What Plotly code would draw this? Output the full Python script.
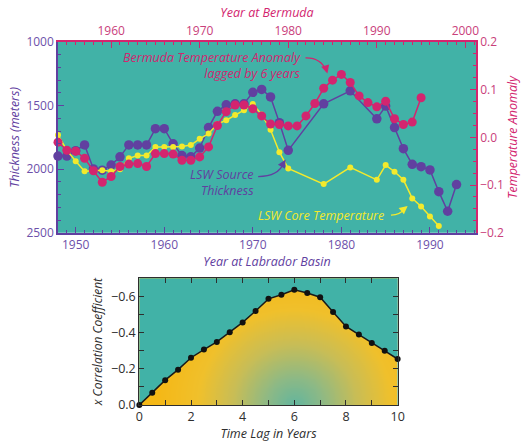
import numpy as np
import plotly.graph_objects as go

# ---------------- data ----------------
thick_years = [1948, 1949, 1950, 1951, 1952, 1953, 1954, 1955, 1956, 1957, 1958, 1959, 1960,
               1961, 1962, 1963, 1964, 1965, 1966, 1967, 1968, 1969, 1970, 1971, 1972, 1973,
               1974, 1978, 1981, 1984, 1985, 1986, 1987, 1988, 1989, 1990, 1991, 1992, 1993]
thick_vals = [1897, 1897, 1855, 1809, 1998, 2008, 1968, 1903, 1809, 1809, 1809, 1682, 1682,
              1801, 1893, 1903, 1834, 1673, 1545, 1494, 1486, 1486, 1396, 1373, 1432, 1634,
              1852, 1486, 1384, 1604, 1504, 1673, 1839, 1962, 1980, 2006, 2177, 2331, 2121]

core_years = [1948, 1949, 1950, 1951, 1952, 1953, 1954, 1955, 1956, 1957, 1958, 1959, 1960,
              1961, 1962, 1963, 1964, 1965, 1966, 1967, 1968, 1969, 1970, 1971, 1972, 1973,
              1974, 1978, 1981, 1984, 1985, 1986, 1987, 1988, 1989, 1990, 1991]
core_vals = [0.005, -0.027, -0.050, -0.071, -0.070, -0.069, -0.071, -0.067, -0.044, -0.038,
             -0.038, -0.020, -0.020, -0.020, -0.019, -0.016, -0.003, 0.008, 0.028, 0.036,
             0.047, 0.057, 0.070, 0.048, 0.016, -0.031, -0.065, -0.098, -0.063, -0.089,
             -0.058, -0.072, -0.089, -0.128, -0.145, -0.166, -0.186]

berm_years = list(range(1954, 1996))
berm_vals = [-0.010, -0.027, -0.029, -0.044, -0.070, -0.094, -0.082, -0.061, -0.056, -0.055,
             -0.061, -0.034, -0.034, -0.035, -0.048, -0.048, -0.041, -0.020, 0.025, 0.054,
             0.068, 0.068, 0.060, 0.045, 0.028, 0.027, 0.024, 0.024, 0.045, 0.071,
             0.103, 0.120, 0.132, 0.115, 0.087, 0.073, 0.064, 0.076, 0.039, 0.027,
             0.032, 0.083]
LAG_YEARS = 6

lags = [0, 0.5, 1, 1.5, 2, 2.5, 3, 3.5, 4, 4.5, 5, 5.5, 6, 6.5, 7, 7.5, 8, 8.5, 9, 9.5, 10]
corr = [0, -0.068, -0.137, -0.195, -0.261, -0.306, -0.348, -0.402, -0.456, -0.519, -0.586,
        -0.609, -0.636, -0.618, -0.595, -0.514, -0.434, -0.389, -0.342, -0.299, -0.254]

# ---------------- style ----------------
TEAL = "#41b2a7"
PURPLE = "#6140a0"
PURPLE_T = "#6d50aa"
PINK = "#d3256f"
PINK_T = "#c9407b"
YELLOW = "#f3ea2c"
DARK = "#2e2e2e"
FONT = "Open Sans"

fig = go.Figure()

# top chart traces
fig.add_trace(go.Scatter(x=thick_years, y=thick_vals, xaxis="x", yaxis="y",
                         mode="lines+markers", line=dict(color=PURPLE, width=1.5),
                         marker=dict(color=PURPLE, size=9.5), cliponaxis=False,
                         hoverinfo="skip"))
fig.add_trace(go.Scatter(x=berm_years, y=berm_vals, xaxis="x3", yaxis="y2",
                         mode="lines+markers", line=dict(color=PINK, width=1.5),
                         marker=dict(color=PINK, size=9), cliponaxis=False,
                         hoverinfo="skip"))
fig.add_trace(go.Scatter(x=core_years, y=core_vals, xaxis="x", yaxis="y2",
                         mode="lines+markers", line=dict(color=YELLOW, width=1.5),
                         marker=dict(color=YELLOW, size=6), cliponaxis=False,
                         hoverinfo="skip"))

# bottom chart: gradient background (style only), masked above the curve
gx = np.linspace(0, 10, 101)
gy = np.linspace(-0.7, 0, 71)
GX, GY = np.meshgrid(gx, gy)
rpx = np.sqrt(((GX - 6.0) * 26.2) ** 2 + (GY * 185.7) ** 2)
gz = np.clip(rpx / 140.0, 0, 1)
fig.add_trace(go.Heatmap(x=gx, y=gy, z=gz, xaxis="x2", yaxis="y3", zsmooth="best",
                         zmin=0, zmax=1, showscale=False, hoverinfo="skip",
                         colorscale=[[0, "#63b59e"], [0.2, "#8db986"], [0.45, "#c9bd56"],
                                     [0.7, "#f0c02c"], [1, "#f5b816"]]))
fig.add_trace(go.Scatter(x=lags, y=[-0.7] * len(lags), xaxis="x2", yaxis="y3",
                         mode="lines", line=dict(width=0, color=TEAL), hoverinfo="skip"))
fig.add_trace(go.Scatter(x=lags, y=corr, xaxis="x2", yaxis="y3", mode="none",
                         fill="tonexty", fillcolor=TEAL, hoverinfo="skip"))
fig.add_trace(go.Scatter(x=lags, y=corr, xaxis="x2", yaxis="y3", mode="lines+markers",
                         line=dict(color="#1a1a1a", width=1.5),
                         marker=dict(color="#111111", size=6), cliponaxis=False,
                         hoverinfo="skip"))

tickfont_p = dict(family=FONT, size=12, color=PURPLE_T)
tickfont_k = dict(family=FONT, size=12, color=PINK_T)

fig.update_layout(
    width=529, height=448, showlegend=False,
    margin=dict(l=58, r=46, t=40, b=35),
    paper_bgcolor="white", plot_bgcolor=TEAL,
    font=dict(family=FONT, size=12),
    xaxis=dict(domain=[0, 1], anchor="y", range=[1948, 1995.2], dtick=10, tick0=1950,
               ticks="inside", ticklen=6, tickcolor=PURPLE, tickwidth=1.2,
               minor=dict(dtick=1, ticklen=3, tickcolor=PURPLE, ticks="inside"),
               showline=True, linecolor=PURPLE, linewidth=1.5, showgrid=False,
               zeroline=False, tickfont=tickfont_p,
               title=dict(text="<i>Year at Labrador Basin</i>", standoff=2,
                          font=dict(family=FONT, size=12.5, color=PURPLE))),
    xaxis3=dict(overlaying="x", side="top", anchor="y", range=[1948 + LAG_YEARS, 1995.2 + LAG_YEARS],
                dtick=10, tick0=1960, ticks="inside", ticklen=6, tickcolor=PINK,
                tickwidth=1.2,
                minor=dict(dtick=1, ticklen=3, tickcolor=PINK, ticks="inside"),
                showline=True, linecolor=PINK, linewidth=1.5, showgrid=False,
                zeroline=False, tickfont=tickfont_k,
                title=dict(text="<i>Year at Bermuda</i>", standoff=2,
                           font=dict(family=FONT, size=12.5, color=PINK))),
    yaxis=dict(domain=[0.4745, 1], anchor="x", range=[2500, 1000], dtick=500,
               tickformat="d", ticks="inside", ticklen=6, tickcolor=PURPLE, tickwidth=1.2,
               minor=dict(dtick=100, ticklen=3, tickcolor=PURPLE, ticks="inside"),
               showline=True, linecolor=PURPLE, linewidth=1.5, showgrid=False,
               zeroline=False, tickfont=tickfont_p,
               title=dict(text="<i>Thickness (meters)</i>", standoff=4,
                          font=dict(family=FONT, size=12.5, color=PURPLE))),
    yaxis2=dict(overlaying="y", side="right", anchor="x", range=[-0.2, 0.2], dtick=0.1,
                tickformat=".1f", ticks="inside", ticklen=6, tickcolor=PINK, tickwidth=1.2,
                minor=dict(dtick=0.025, ticklen=3, tickcolor=PINK, ticks="inside"),
                showline=True, linecolor=PINK, linewidth=1.5, showgrid=False,
                zeroline=False, tickfont=tickfont_k,
                title=dict(text="<i>Temperature Anomaly</i>", standoff=4,
                           font=dict(family=FONT, size=12.5, color=PINK))),
    xaxis2=dict(domain=[0.1946, 0.8125], anchor="y3", range=[0, 10], dtick=2,
                ticks="inside", ticklen=5, tickcolor=DARK, mirror="ticks",
                minor=dict(dtick=1, ticklen=5, tickcolor=DARK, ticks="inside"),
                showline=True, linecolor=DARK, linewidth=1.2, showgrid=False,
                zeroline=False, tickfont=dict(family=FONT, size=12.5, color=DARK),
                title=dict(text="<i>Time Lag in Years</i>", standoff=2,
                           font=dict(family=FONT, size=12.5, color=DARK))),
    yaxis3=dict(domain=[0, 0.3493], anchor="x2", range=[0, -0.7], dtick=0.2,
                tickformat=".1f", ticks="inside", ticklen=5, tickcolor=DARK, mirror="ticks",
                minor=dict(dtick=0.1, ticklen=5, tickcolor=DARK, ticks="inside"),
                showline=True, linecolor=DARK, linewidth=1.2, showgrid=False,
                zeroline=False, tickfont=dict(family=FONT, size=12.5, color=DARK),
                title=dict(text="<i>x Correlation Coefficient</i>", standoff=5,
                           font=dict(family=FONT, size=12, color=DARK))),
)

# ---------------- annotations (labels with curved pointers) ----------------
afont = lambda c: dict(family=FONT, size=12.5, color=c)
ann = [
    dict(x=1975.6, y=1185, text="<i>Bermuda Temperature Anomaly<br>lagged by 6 years</i>",
         xanchor="right", align="right", font=afont(PINK)),
    dict(x=1970.3, y=2108, text="<i>LSW Source<br>Thickness</i>", xanchor="right",
         align="right", font=afont(PURPLE)),
    dict(x=1970.45, y=2364, text="<i>LSW Core Temperature</i>", xanchor="left",
         font=afont(YELLOW)),
]
for a in ann:
    a.update(xref="x", yref="y", showarrow=False, yanchor="middle", borderpad=0)
    fig.add_annotation(**a)

heads = [
    (1978.42, 1248, -2, -7, PINK),
    (1973.7, 1924, -4, 7, PURPLE),
    (1987.48, 2289, -6, 5, YELLOW),
]
for hx, hy, ax, ay, c in heads:
    fig.add_annotation(x=hx, y=hy, xref="x", yref="y", ax=ax, ay=ay, text="",
                       showarrow=True, arrowhead=2, arrowsize=1.1, arrowwidth=1.5,
                       arrowcolor=c)

paths = [
    ("M 1975.95,1125 Q 1977.7,1122 1978.3,1228", PINK),
    ("M 1970.6,2058 Q 1972.9,2058 1973.5,1950", PURPLE),
    ("M 1985.6,2361 Q 1986.6,2362 1987.2,2306", YELLOW),
]
for p, c in paths:
    fig.add_shape(type="path", path=p, xref="x", yref="y",
                  line=dict(color=c, width=1.3))

fig.write_html("out.html")
